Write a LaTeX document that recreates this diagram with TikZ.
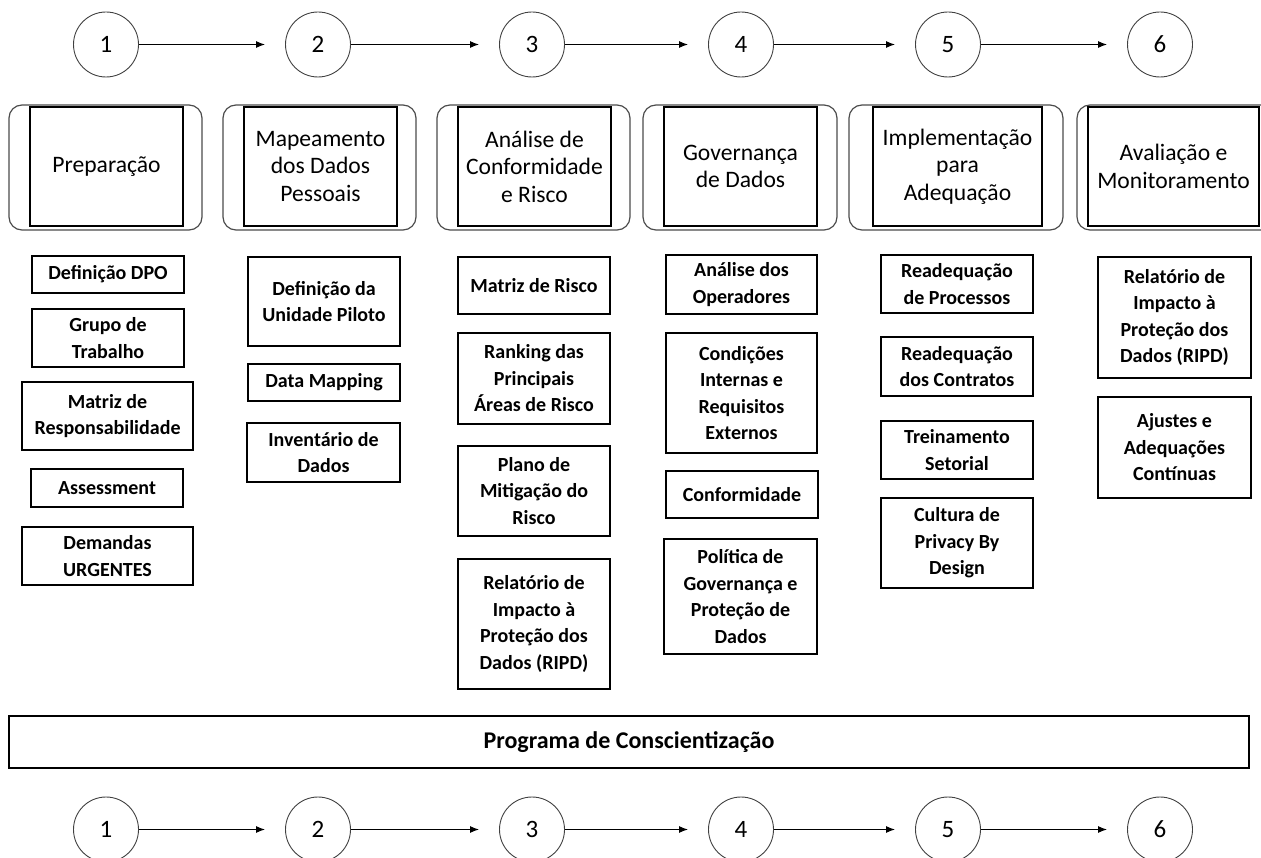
\documentclass[tikz,border=0pt]{standalone}
\usepackage{fontspec}
\setmainfont{Carlito}
\usetikzlibrary{arrows.meta}

\begin{document}
\begin{tikzpicture}[x=1pt,y=-1pt,
  stepnum/.style={circle, draw=black!75, line width=0.9pt, minimum size=65pt, inner sep=0pt,
    font=\fontsize{25}{30}\selectfont},
  flow/.style={-{Latex[length=9pt,width=7pt]}, line width=1.2pt, shorten >=20pt},
  phaseouter/.style={draw=black!70, line width=1.2pt, rounded corners=13pt, inner sep=0pt, minimum height=125pt},
  phase/.style={draw=black, line width=1.2pt, inner sep=0pt, align=center, minimum height=119pt,
    font=\fontsize{23.6}{27.5}\selectfont},
  task/.style={draw=black, line width=1.3pt, inner sep=0pt, align=center,
    font=\bfseries\fontsize{20}{26.5}\selectfont},
  banner/.style={draw=black, line width=1.2pt, inner sep=0pt, align=center,
    font=\bfseries\fontsize{24}{29}\selectfont},
]
\useasboundingbox (0,0) rectangle (1261,858);
\clip (0,0) rectangle (1261,858);

% ---- step numbers, top row ----
\node[stepnum] (t1) at (106,44.5) {1};
\node[stepnum] (t2) at (318,44.5) {2};
\node[stepnum] (t3) at (532,44.5) {3};
\node[stepnum] (t4) at (741,44.5) {4};
\node[stepnum] (t5) at (948,44.5) {5};
\node[stepnum] (t6) at (1160,44.5) {6};
\draw[flow] (t1) -- (t2);
\draw[flow] (t2) -- (t3);
\draw[flow] (t3) -- (t4);
\draw[flow] (t4) -- (t5);
\draw[flow] (t5) -- (t6);

% ---- phase headers ----
\node[phaseouter, minimum width=193pt] (p1o) at (105.5,167.5) {};
\node[phase, minimum width=153pt] (p1) at (106.5,166.5) {Preparação};
\node[phaseouter, minimum width=193pt] (p2o) at (319.5,167.5) {};
\node[phase, minimum width=153pt] (p2) at (320.5,166.5) {Mapeamento\\dos Dados\\Pessoais};
\node[phaseouter, minimum width=193pt] (p3o) at (533.5,167.5) {};
\node[phase, minimum width=153pt] (p3) at (534.5,166.5) {Análise de\\Conformidade\\e Risco};
\node[phaseouter, minimum width=194pt] (p4o) at (740,167.5) {};
\node[phase, minimum width=153pt] (p4) at (740.5,166.5) {Governança\\de Dados};
\node[phaseouter, minimum width=214pt] (p5o) at (956,167.5) {};
\node[phase, minimum width=169pt] (p5) at (957.5,166.5) {Implementação\\para\\Adequação};
\node[phaseouter, minimum width=203pt] (p6o) at (1178.5,167.5) {};
\node[phase, minimum width=171pt] (p6) at (1173.5,166.5) {Avaliação e\\Monitoramento};

% ---- column 1: Preparação ----
\node[task, minimum width=152pt, minimum height=37pt] (a1) at (108,274.5) {Definição DPO};
\node[task, minimum width=152pt, minimum height=58pt] (a2) at (108,338) {Grupo de\\Trabalho};
\node[task, minimum width=171pt, minimum height=68pt] (a3) at (107.5,416) {Matriz de\\Responsabilidade};
\node[task, minimum width=152pt, minimum height=38pt] (a4) at (107,488) {Assessment};
\node[task, minimum width=171pt, minimum height=58pt] (a5) at (107.5,556) {Demandas\\URGENTES};

% ---- column 2: Mapeamento ----
\node[task, minimum width=152pt, minimum height=89pt] (b1) at (324,301.5) {Definição da\\Unidade Piloto};
\node[task, minimum width=152pt, minimum height=37pt] (b2) at (324,382.5) {Data Mapping};
\node[task, minimum width=153pt, minimum height=59pt] (b3) at (323.5,452.5) {Inventário de\\Dados};

% ---- column 3: Conformidade e Risco ----
\node[task, minimum width=152pt, minimum height=57pt] (c1) at (534,285.5) {Matriz de Risco};
\node[task, minimum width=152pt, minimum height=91pt] (c2) at (534,378.5) {Ranking das\\Principais\\Áreas de Risco};
\node[task, minimum width=152pt, minimum height=90pt] (c3) at (534,491) {Plano de\\Mitigação do\\Risco};
\node[task, minimum width=152pt, minimum height=130pt] (c4) at (534,624) {Relatório de\\Impacto à\\Proteção dos\\Dados (RIPD)};

% ---- column 4: Governança ----
\node[task, minimum width=151pt, minimum height=59pt] (d1) at (741.5,284.5) {Análise dos\\Operadores};
\node[task, minimum width=151pt, minimum height=120pt] (d2) at (741.5,393) {Condições\\Internas e\\Requisitos\\Externos};
\node[task, minimum width=152pt, minimum height=47pt] (d3) at (742,494.5) {Conformidade};
\node[task, minimum width=153pt, minimum height=115pt] (d4) at (740.5,596.5) {Política de\\Governança e\\Proteção de\\Dados};

% ---- column 5: Implementação ----
\node[task, minimum width=152pt, minimum height=58pt] (e1) at (957,284) {Readequação\\de Processos};
\node[task, minimum width=152pt, minimum height=59pt] (e2) at (957,366.5) {Readequação\\dos Contratos};
\node[task, minimum width=152pt, minimum height=58pt] (e3) at (957,450) {Treinamento\\Setorial};
\node[task, minimum width=152pt, minimum height=90pt] (e4) at (957,543) {Cultura de\\Privacy By\\Design};

% ---- column 6: Avaliação ----
\node[task, minimum width=153pt, minimum height=121pt] (f1) at (1174.5,317.5) {Relatório de\\Impacto à\\Proteção dos\\Dados (RIPD)};
\node[task, minimum width=153pt, minimum height=101pt] (f2) at (1174.5,447.5) {Ajustes e\\Adequações\\Contínuas};

% ---- awareness programme ----
\node[banner, minimum width=1240pt, minimum height=52pt] (prog) at (629,742) {Programa de Conscientização};

% ---- step numbers, bottom row ----
\node[stepnum] (b1n) at (106,829.5) {1};
\node[stepnum] (b2n) at (318,829.5) {2};
\node[stepnum] (b3n) at (532,829.5) {3};
\node[stepnum] (b4n) at (741,829.5) {4};
\node[stepnum] (b5n) at (948,829.5) {5};
\node[stepnum] (b6n) at (1160,829.5) {6};
\draw[flow] (b1n) -- (b2n);
\draw[flow] (b2n) -- (b3n);
\draw[flow] (b3n) -- (b4n);
\draw[flow] (b4n) -- (b5n);
\draw[flow] (b5n) -- (b6n);
\end{tikzpicture}
\end{document}
